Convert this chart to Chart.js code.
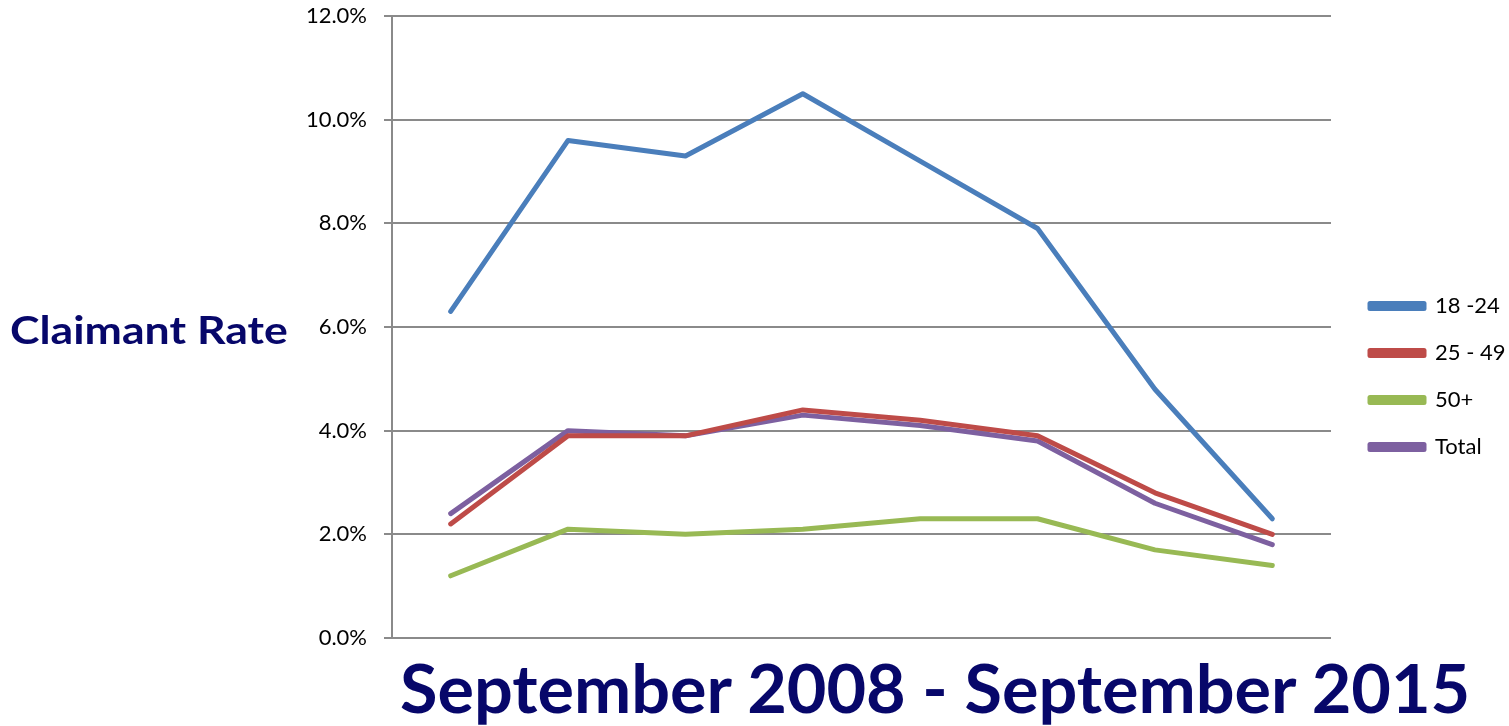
<!DOCTYPE html>
<html>
<head>
<meta charset="utf-8">
<script src="https://cdn.jsdelivr.net/npm/chart.js@4.4.1/dist/chart.umd.min.js"></script>
<style>
  html, body { margin: 0; padding: 0; background: #fff; }
  #wrap { position: relative; width: 1509px; height: 726px; overflow: hidden; }
  #chart { position: absolute; left: 0; top: 0; }
  .navy { position: absolute; color: #07076a; font-family: Lato, "Open Sans", sans-serif; font-weight: 700;
          white-space: nowrap; line-height: 1; transform-origin: 0 0; }
  #ytitle { left: 10px; top: 310px; font-size: 39px; }
  #xtitle { left: 400px; top: 655px; font-size: 66px; }
</style>
</head>
<body>
<div id="wrap">
  <canvas id="chart" width="1509" height="726"></canvas>
  <div class="navy" id="ytitle" data-w="278">Claimant Rate</div>
  <div class="navy" id="xtitle" data-w="1070">September 2008 - September 2015</div>
</div>
<script>
// Sep 2008 .. Sep 2015, one point per year
const years = ["2008", "2009", "2010", "2011", "2012", "2013", "2014", "2015"];

const age18to24 = [6.3, 9.6, 9.3, 10.5, 9.2, 7.9, 4.8, 2.3];
const age25to49 = [2.2, 3.9, 3.9, 4.4, 4.2, 3.9, 2.8, 2.0];
const age50plus = [1.2, 2.1, 2.0, 2.1, 2.3, 2.3, 1.7, 1.4];
const totalRate = [2.4, 4.0, 3.9, 4.3, 4.1, 3.8, 2.6, 1.8];

const yTicks = [0, 2, 4, 6, 8, 10, 12];

const seriesNames  = ["18 -24", "25 - 49", "50+", "Total"];
const seriesColors = ["#4a7ebb", "#be4b48", "#98b954", "#7d60a0"];
const seriesData   = [age18to24, age25to49, age50plus, totalRate];

// the source text is a stretched Calibri, so widen ours to the same width
document.querySelectorAll(".navy").forEach(el => {
  const k = +el.dataset.w / el.offsetWidth;
  el.style.transform = `scaleX(${k})`;
});

const FONT = "Lato, 'Open Sans', sans-serif";
const LEG_PAD = 25;

// keep plot right edge at 1331 and put the legend where it sits in the source
const legendPlace = {
  id: "legendPlace",
  beforeLayout(chart) {
    const lg = chart.legend;
    if (lg && !lg._fixedFit) {
      const fit = lg.fit.bind(lg);
      lg.fit = function () { fit(); this.width = 178; };
      lg._fixedFit = true;
    }
  },
  afterLayout(chart) {
    const lg = chart.legend;
    const h = lg.bottom - lg.top;
    lg.left = 1370 - LEG_PAD;
    lg.top = 306 - 11 - LEG_PAD;
    lg.bottom = lg.top + h;
  }
};

const ctx = document.getElementById("chart").getContext("2d");

new Chart(ctx, {
  type: "line",
  data: {
    labels: years,
    datasets: seriesData.map((d, i) => ({
      label: seriesNames[i],
      data: d,
      borderColor: seriesColors[i],
      backgroundColor: seriesColors[i],
      borderWidth: 5,
      pointRadius: 0,
      tension: 0,
      borderCapStyle: "round",
      borderJoinStyle: "round"
    }))
  },
  options: {
    responsive: false,
    animation: false,
    layout: { padding: { top: 16, bottom: 88, right: 0 } },
    plugins: {
      tooltip: { enabled: false },
      legend: {
        position: "right",
        align: "start",
        labels: {
          color: "#000",
          font: { family: FONT, size: 22 },
          boxWidth: 54,
          boxHeight: 5,
          padding: LEG_PAD
        }
      }
    },
    scales: {
      x: {
        display: false,
        offset: true
      },
      y: {
        min: 0,
        max: 12,
        afterFit: s => { s.width = 392; s.paddingTop = 0; },
        afterBuildTicks: s => { s.ticks = yTicks.map(v => ({ value: v })); },
        ticks: {
          color: "#000",
          padding: 17,
          font: { family: FONT, size: 22 },
          callback: v => v.toFixed(1) + "%"
        },
        grid: { color: "#8a8a8a", lineWidth: 2, tickLength: 8 },
        border: { color: "#8a8a8a", width: 2 }
      }
    }
  },
  plugins: [legendPlace]
});
</script>
</body>
</html>
